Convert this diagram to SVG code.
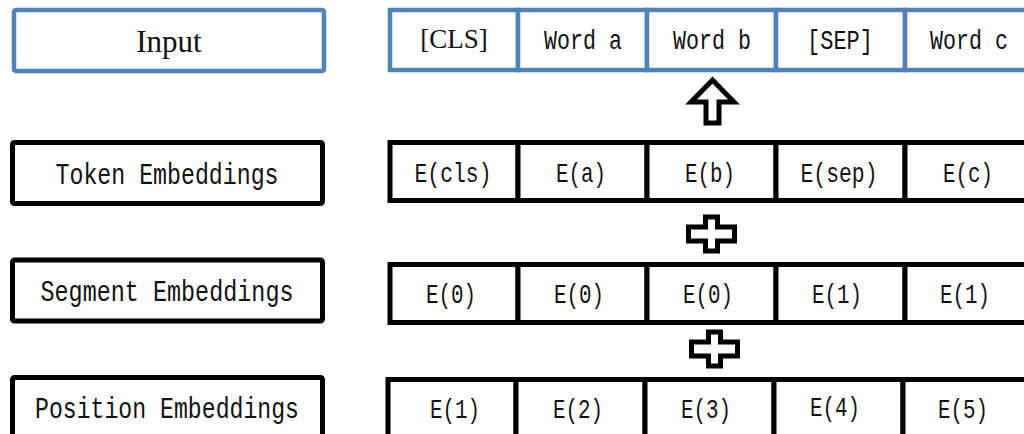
<svg xmlns="http://www.w3.org/2000/svg" width="1024" height="434" viewBox="0 0 1024 434">
<style>
.blue{fill:#fff;stroke:#4F81BD;stroke-width:4.5}
.blk{fill:#fff;stroke:#000;stroke-width:5}
.mono{font-family:"Liberation Mono","DejaVu Sans Mono",monospace;fill:#111;text-anchor:middle}
.lab{font-size:30px}
.cell{font-size:28px}
.serif{font-family:"Liberation Serif","Times New Roman",serif;fill:#111;text-anchor:middle}
.sym{fill:#fff;stroke:#000;stroke-width:5;stroke-linejoin:miter}
</style>
<defs>
<path id="plus" d="M -6,-17 H 6 V -7 H 23 V 7 H 6 V 17 H -6 V 7 H -23 V -7 H -6 Z"/>
</defs>
<g id="input-label">
<rect class="blue" x="14" y="10" width="310" height="61" rx="2"/>
<text class="serif" x="169" y="52" font-size="31">Input</text>
</g>
<g id="input-row">
<rect class="blue" x="390" y="10" width="128" height="60"/>
<rect class="blue" x="518" y="10" width="129" height="60"/>
<rect class="blue" x="647" y="10" width="129" height="60"/>
<rect class="blue" x="776" y="10" width="129" height="60"/>
<rect class="blue" x="905" y="10" width="135" height="60"/>
<text class="serif" x="454" y="48" font-size="27">[CLS]</text>
<text class="mono cell" x="583" y="49" textLength="78" lengthAdjust="spacingAndGlyphs">Word a</text>
<text class="mono cell" x="712" y="49" textLength="78" lengthAdjust="spacingAndGlyphs">Word b</text>
<text class="mono cell" x="840" y="49" textLength="66" lengthAdjust="spacingAndGlyphs">[SEP]</text>
<text class="mono cell" x="969" y="49" textLength="78" lengthAdjust="spacingAndGlyphs">Word c</text>
</g>
<g id="token-label">
<rect class="blk" x="12.5" y="142.5" width="310" height="61" rx="2"/>
<text class="mono lab" x="167" y="184" textLength="223" lengthAdjust="spacingAndGlyphs">Token Embeddings</text>
</g>
<g id="token-row">
<rect class="blk" x="390" y="142.5" width="128" height="58"/>
<rect class="blk" x="518" y="142.5" width="129" height="58"/>
<rect class="blk" x="647" y="142.5" width="129" height="58"/>
<rect class="blk" x="776" y="142.5" width="129" height="58"/>
<rect class="blk" x="905" y="142.5" width="135" height="58"/>
<text class="mono cell" x="453" y="182" textLength="77" lengthAdjust="spacingAndGlyphs">E(cls)</text>
<text class="mono cell" x="581" y="182" textLength="50" lengthAdjust="spacingAndGlyphs">E(a)</text>
<text class="mono cell" x="710" y="182" textLength="50" lengthAdjust="spacingAndGlyphs">E(b)</text>
<text class="mono cell" x="839" y="182" textLength="77" lengthAdjust="spacingAndGlyphs">E(sep)</text>
<text class="mono cell" x="968" y="182" textLength="50" lengthAdjust="spacingAndGlyphs">E(c)</text>
</g>
<g id="segment-label">
<rect class="blk" x="12.5" y="260" width="310" height="61" rx="2"/>
<text class="mono lab" x="167" y="301" textLength="253" lengthAdjust="spacingAndGlyphs">Segment Embeddings</text>
</g>
<g id="segment-row">
<rect class="blk" x="390" y="264.5" width="128" height="58"/>
<rect class="blk" x="518" y="264.5" width="129" height="58"/>
<rect class="blk" x="647" y="264.5" width="129" height="58"/>
<rect class="blk" x="776" y="264.5" width="129" height="58"/>
<rect class="blk" x="905" y="264.5" width="135" height="58"/>
<text class="mono cell" x="451" y="303" textLength="50" lengthAdjust="spacingAndGlyphs">E(0)</text>
<text class="mono cell" x="579" y="303" textLength="50" lengthAdjust="spacingAndGlyphs">E(0)</text>
<text class="mono cell" x="708" y="303" textLength="50" lengthAdjust="spacingAndGlyphs">E(0)</text>
<text class="mono cell" x="837" y="303" textLength="50" lengthAdjust="spacingAndGlyphs">E(1)</text>
<text class="mono cell" x="965" y="303" textLength="50" lengthAdjust="spacingAndGlyphs">E(1)</text>
</g>
<g id="position-label">
<rect class="blk" x="12.5" y="377.5" width="310" height="80" rx="2"/>
<text class="mono lab" x="167" y="418" textLength="264" lengthAdjust="spacingAndGlyphs">Position Embeddings</text>
</g>
<g id="position-row">
<rect class="blk" x="388" y="379.5" width="128" height="80"/>
<rect class="blk" x="516" y="379.5" width="129" height="80"/>
<rect class="blk" x="645" y="379.5" width="129" height="80"/>
<rect class="blk" x="774" y="379.5" width="129" height="80"/>
<rect class="blk" x="903" y="379.5" width="135" height="80"/>
<text class="mono cell" x="455" y="418" textLength="50" lengthAdjust="spacingAndGlyphs">E(1)</text>
<text class="mono cell" x="578" y="418" textLength="50" lengthAdjust="spacingAndGlyphs">E(2)</text>
<text class="mono cell" x="706" y="418" textLength="50" lengthAdjust="spacingAndGlyphs">E(3)</text>
<text class="mono cell" x="835" y="416" textLength="50" lengthAdjust="spacingAndGlyphs">E(4)</text>
<text class="mono cell" x="963" y="418" textLength="50" lengthAdjust="spacingAndGlyphs">E(5)</text>
</g>
<g id="connectors">
<path class="sym" d="M 712.5,80 L 734,102 H 719 V 123 H 706 V 102 H 691 Z"/>
<use href="#plus" class="sym" x="711.5" y="234"/>
<use href="#plus" class="sym" x="714.5" y="349"/>
</g>
</svg>
